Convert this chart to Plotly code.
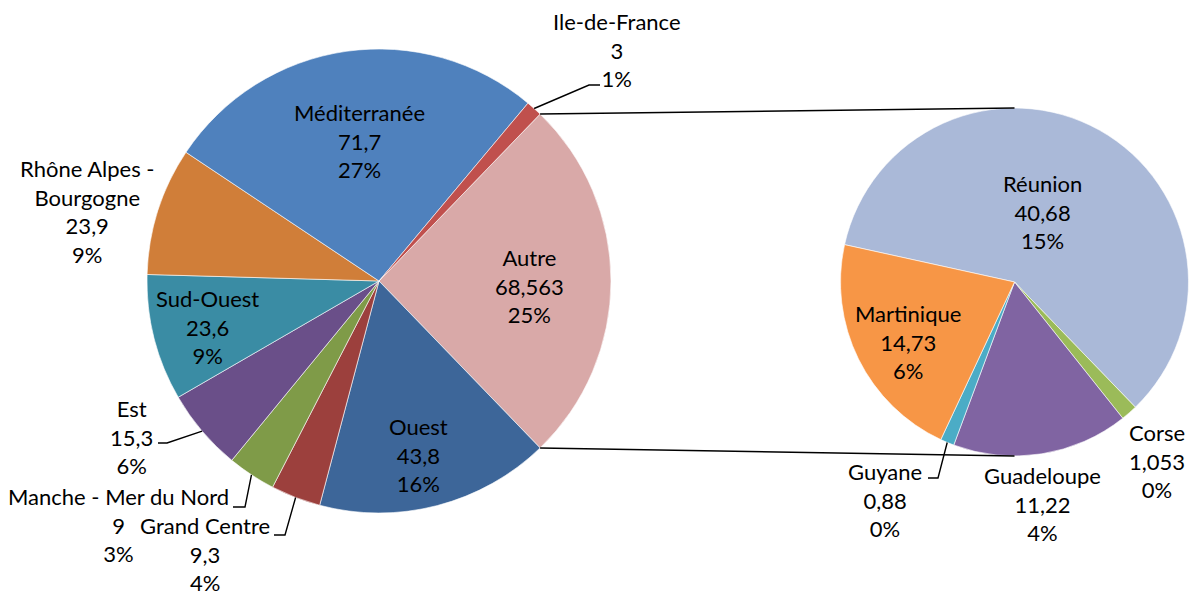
import math
import plotly.graph_objects as go

# ---------------- data ----------------
main_labels = ["Autre", "Ouest", "Grand Centre", "Manche - Mer du Nord", "Est",
               "Sud-Ouest", "Rhône Alpes -<br>Bourgogne", "Méditerranée", "Ile-de-France"]
main_values = [68.563, 43.8, 9.3, 9, 15.3, 23.6, 23.9, 71.7, 3]
main_pct = ["25%", "16%", "4%", "3%", "6%", "9%", "9%", "27%", "1%"]
main_colors = ["#D9A9A8", "#3D6699", "#9C403D", "#7F9B48", "#6A4F89",
               "#3A8CA4", "#D07E39", "#4F81BD", "#C0504D"]

sec_labels = ["Réunion", "Corse", "Guadeloupe", "Guyane", "Martinique"]
sec_values = [40.68, 1.053, 11.22, 0.88, 14.73]
sec_pct = ["15%", "0%", "4%", "0%", "6%"]
sec_colors = ["#AAB9D8", "#9BBB59", "#8064A2", "#4BACC6", "#F79646"]

# ---------------- layout constants (pixels) ----------------
W, H = 1194, 599
MCX, MCY, MR = 379, 281, 232
SCX, SCY, SR = 1014.5, 282, 174
SEC_ROT = 282.4
FONT = dict(family="Lato, 'Open Sans', sans-serif", size=22, color="#000000")

main_lab_pos = [(529, 286), (418, 455), (205, 554), (118, 525), (131, 437),
                (207, 327), (87, 211.5), (360, 141), (617, 50)]
sec_lab_pos = [(1042, 212), (1157, 461), (1042, 504), (885, 500), (908, 342)]
# leader lines: index -> (kink, end)
main_leaders = {2: ((285, 535), (274, 535)), 3: ((245, 507), (233, 507)),
                4: ((167, 443), (158, 443)), 8: ((589, 85), (600, 85))}
sec_leaders = {3: ((938, 478), (928, 478))}


def px(x):
    return x / W


def py(y):
    return 1 - y / H


def fmt(v):
    return f"{v:g}".replace(".", ",")


total_main = sum(main_values)
total_sec = sum(sec_values)
main_rot = 90 - 180 * main_values[0] / total_main


def mid_angles(values, rot):
    tot = sum(values)
    out, a = [], rot
    for v in values:
        span = 360 * v / tot
        out.append(a + span / 2)
        a += span
    return out


def edge(cx, cy, r, ang):
    t = math.radians(ang)
    return cx + r * math.sin(t), cy - r * math.cos(t)


fig = go.Figure()
fig.add_trace(go.Pie(
    labels=main_labels, values=main_values, sort=False, direction="clockwise",
    rotation=main_rot, marker=dict(colors=main_colors, line=dict(color="white", width=0.6)),
    textinfo="none", hoverinfo="skip", showlegend=False,
    domain=dict(x=[px(MCX - MR), px(MCX + MR)], y=[py(MCY + MR), py(MCY - MR)]),
))
fig.add_trace(go.Pie(
    labels=sec_labels, values=sec_values, sort=False, direction="clockwise",
    rotation=SEC_ROT, marker=dict(colors=sec_colors, line=dict(color="white", width=0.6)),
    textinfo="none", hoverinfo="skip", showlegend=False,
    domain=dict(x=[px(SCX - SR), px(SCX + SR)], y=[py(SCY + SR), py(SCY - SR)]),
))

annotations = []
shapes = []


def add_labels(labels, values, pcts, pos):
    for lab, v, p, (x, y) in zip(labels, values, pcts, pos):
        annotations.append(dict(
            x=px(x), y=py(y), xref="paper", yref="paper", showarrow=False,
            text=f"{lab}<br>{fmt(v)}<br>{p}", font=FONT, align="center",
            xanchor="center", yanchor="middle"))


add_labels(main_labels, main_values, main_pct, main_lab_pos)
add_labels(sec_labels, sec_values, sec_pct, sec_lab_pos)


def add_leaders(values, rot, cx, cy, r, leaders):
    mids = mid_angles(values, rot)
    for i, (k, e) in leaders.items():
        sx, sy = edge(cx, cy, r, mids[i])
        path = f"M {px(sx)},{py(sy)} L {px(k[0])},{py(k[1])} L {px(e[0])},{py(e[1])}"
        shapes.append(dict(type="path", xref="paper", yref="paper", path=path,
                           line=dict(color="#000000", width=1.4)))


add_leaders(main_values, main_rot, MCX, MCY, MR, main_leaders)
add_leaders(sec_values, SEC_ROT, SCX, SCY, SR, sec_leaders)

# connector lines between the "Autre" slice and the secondary pie
a_start = main_rot
a_end = main_rot + 360 * main_values[0] / total_main
for ang, (ex, ey) in [(a_start, (SCX, SCY - SR)), (a_end, (SCX, SCY + SR))]:
    sx, sy = edge(MCX, MCY, MR, ang)
    shapes.append(dict(type="line", xref="paper", yref="paper",
                       x0=px(sx), y0=py(sy), x1=px(ex), y1=py(ey),
                       line=dict(color="#000000", width=1.4)))

fig.update_layout(
    width=W, height=H, margin=dict(l=0, r=0, t=0, b=0),
    paper_bgcolor="white", plot_bgcolor="white",
    annotations=annotations, shapes=shapes,
)
fig.write_html("out.html", config={"displayModeBar": False},
               post_script="document.body.style.margin='0';document.body.style.padding='0';")
